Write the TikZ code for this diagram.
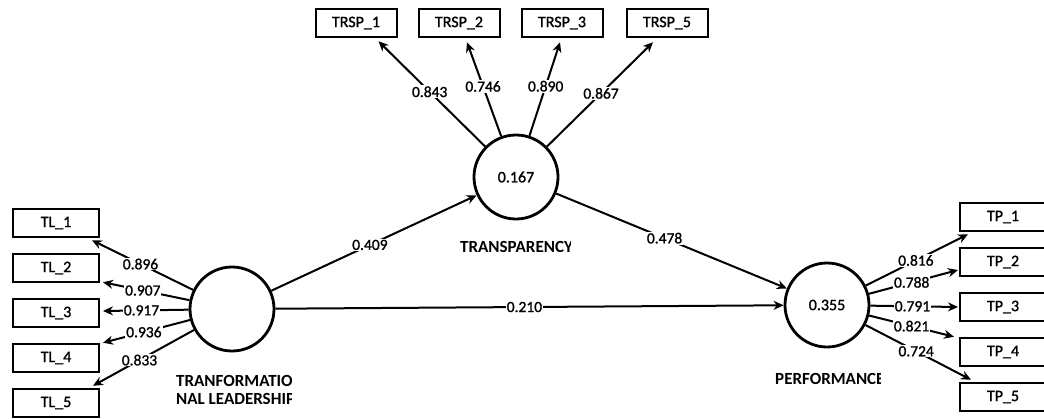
\documentclass[tikz,border=0pt]{standalone}
\usepackage{fontspec}
\setmainfont{Carlito}
\newfontfamily\labelfont{Carlito}[FakeBold=1.2]
\usetikzlibrary{arrows.meta,calc}
\begin{document}
\begin{tikzpicture}[x=1pt,y=-1pt,
  ind/.style={draw,line width=2pt,minimum width=86pt,minimum height=28.5pt,inner sep=0pt,
    font=\labelfont\fontsize{16}{18}\selectfont},
  topind/.style={ind,minimum width=81pt},
  lat/.style={draw,circle,line width=2.8pt,minimum size=84pt,inner sep=0pt,
    font=\labelfont\fontsize{16}{18}\selectfont},
  conn/.style={line width=2pt,-{Stealth[length=10pt,width=9pt]}},
  val/.style={fill=white,inner sep=1pt,font=\labelfont\fontsize{15.5}{18}\selectfont},
  cname/.style={inner sep=0pt,align=left,font=\bfseries\fontsize{17}{18}\selectfont}]
\useasboundingbox (0,0) rectangle (1044,418);
\fill[white] (0,0) rectangle (1044,418);

% latent variables
\node[lat] (TL) at (232,309) {};
\node[lat] (TR) at (516,177) {0.167};
\node[lat] (PF) at (827,305) {0.355};

% indicators of transformational leadership
\node[ind] (TL1) at (56,223) {TL\_1};
\node[ind] (TL2) at (56,268) {TL\_2};
\node[ind] (TL3) at (56,313) {TL\_3};
\node[ind] (TL4) at (56,358) {TL\_4};
\node[ind] (TL5) at (56,403) {TL\_5};

% indicators of transparency
\node[topind] (T1) at (356,23) {TRSP\_1};
\node[topind] (T2) at (459,23) {TRSP\_2};
\node[topind] (T3) at (562,23) {TRSP\_3};
\node[topind] (T5) at (667,23) {TRSP\_5};

% indicators of performance
\node[ind] (TP1) at (1003,217) {TP\_1};
\node[ind] (TP2) at (1003,262) {TP\_2};
\node[ind] (TP3) at (1003,307) {TP\_3};
\node[ind] (TP4) at (1003,352) {TP\_4};
\node[ind] (TP5) at (1003,397) {TP\_5};

% outer loadings: leadership
\draw[conn] (TL) -- ($(TL1.south east)+(-8,2)$) node[val,pos=0.52] {0.896};
\draw[conn] (TL) -- ($(TL2.south east)+(3,-1)$) node[val,pos=0.54] {0.907};
\draw[conn] (TL) -- ($(TL3.east)+(3,-2)$) node[val,pos=0.55] {0.917};
\draw[conn] (TL) -- ($(TL4.north east)+(3,0)$) node[val,pos=0.53] {0.936};
\draw[conn] (TL) -- ($(TL5.north east)+(-7,-2)$) node[val,pos=0.54] {0.833};

% outer loadings: transparency
\draw[conn] (TR) -- ($(T1.south east)+(-19,3)$) node[val,pos=0.52] {0.843};
\draw[conn] (TR) -- ($(T2.south)+(8,4)$) node[val,pos=0.53] {0.746};
\draw[conn] (TR) -- ($(T3.south)+(-2,4)$) node[val,pos=0.53] {0.890};
\draw[conn] (TR) -- ($(T5.south)+(-14,4)$) node[val,pos=0.51] {0.867};

% outer loadings: performance
\draw[conn] (PF) -- ($(TP1.south west)+(9,2)$) node[val,pos=0.49] {0.816};
\draw[conn] (PF) -- ($(TP2.west)+(-1,8)$) node[val,pos=0.48] {0.788};
\draw[conn] (PF) -- ($(TP3.west)+(-1,0)$) node[val,pos=0.48] {0.791};
\draw[conn] (PF) -- ($(TP4.north west)+(-5,0)$) node[val,pos=0.5] {0.821};
\draw[conn] (PF) -- ($(TP5.north west)+(12,-2)$) node[val,pos=0.48] {0.724};

% path coefficients
\draw[conn] (TL) -- (TR) node[val,pos=0.48] {0.409};
\draw[conn] (TR) -- (PF) node[val,pos=0.47] {0.478};
\draw[conn] (TL) -- (PF) node[val,pos=0.49] {0.210};

% construct names, cut off at the edge of their label fields
\begin{scope}
  \clip (150,360) rectangle (291,415);
  \node[cname,anchor=north west] (TLname) at (176,375) {TRANFORMATIO\\NAL LEADERSHIP};
\end{scope}
\begin{scope}
  \clip (440,230) rectangle (570,262);
  \node[cname,anchor=west] (TRname) at (460,247) {TRANSPARENCY};
\end{scope}
\begin{scope}
  \clip (760,362) rectangle (880,395);
  \node[cname,anchor=west] (PFname) at (775,379) {PERFORMANCE};
\end{scope}
\end{tikzpicture}
\end{document}
